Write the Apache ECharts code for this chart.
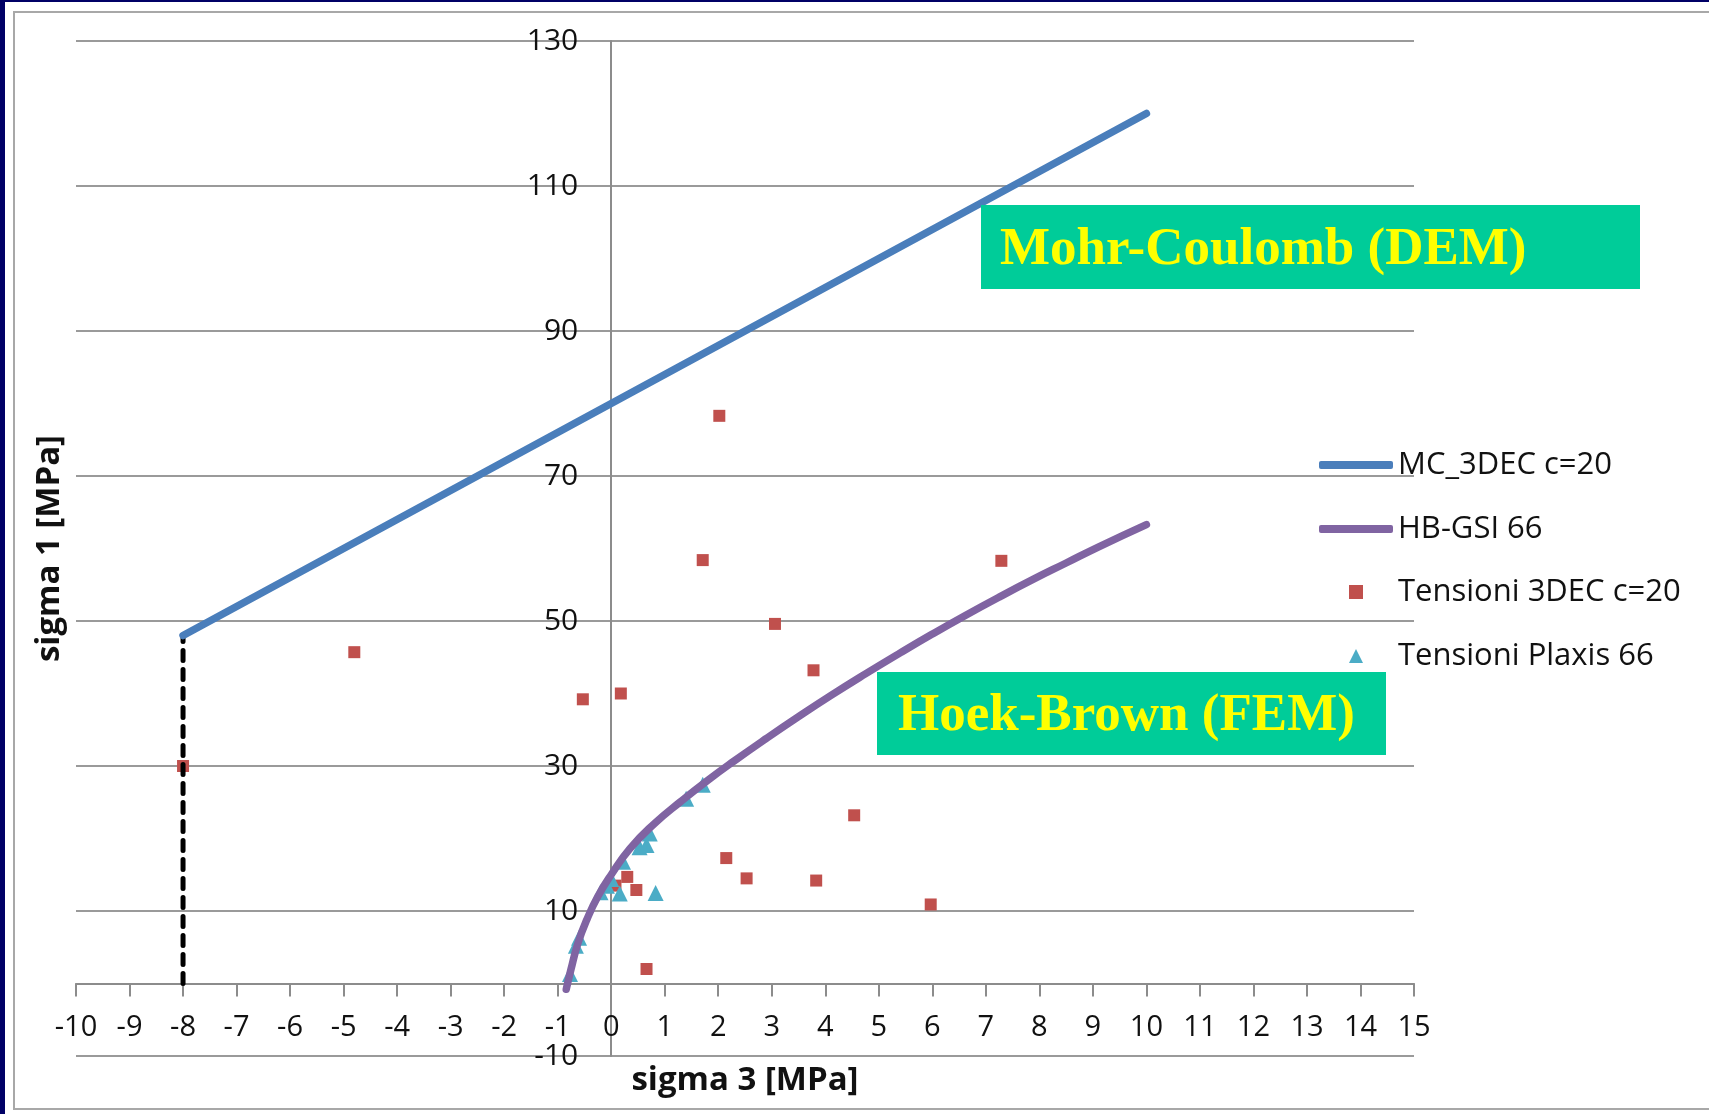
<!DOCTYPE html>
<html>
<head>
<meta charset="utf-8">
<title>sigma 1 - sigma 3</title>
<script src="https://cdn.jsdelivr.net/npm/echarts@6/dist/echarts.min.js"></script>
<style>
  html, body { margin: 0; padding: 0; background: #000066; overflow: hidden; }
  #paper { position: absolute; left: 5px; top: 2px; right: 0; bottom: 0; background: #fff; }
  #frame { position: absolute; left: 13px; top: 11px; width: 1720px; height: 1099px;
           box-sizing: border-box; border: 2px solid #a8a8a8; }
  #chart { position: absolute; left: 0; top: 0; width: 1709px; height: 1114px; }
</style>
</head>
<body>
<div id="paper"></div>
<div id="frame"></div>
<div id="chart"></div>
<script>
// axis ranges (sigma 3 on x, sigma 1 on y)
var sigma3Axis = { min: -10, max: 15, step: 1 };
var sigma1Axis = { min: -10, max: 130, step: 20 };

// Mohr-Coulomb envelope from 3DEC (c = 20)
var mcLine = [[-8, 48], [10, 120]];

// tension cut-off, dashed vertical
var cutoffLine = [[-8, 0], [-8, 48]];

// Hoek-Brown envelope GSI 66
var hbCurve = [
    [-0.84, -0.8], [-0.75, 2.0], [-0.62, 5.6], [-0.45, 8.9], [-0.25, 12.0],
    [0, 15.0], [0.35, 18.6], [0.8, 22.0], [1.3, 25.1], [1.8, 28.0],
    [2.3, 30.7], [2.9, 33.8], [3.5, 36.8], [4.1, 39.7], [4.75, 42.7],
    [5.4, 45.6], [6.0, 48.2], [6.6, 50.7], [7.25, 53.3], [7.9, 55.8],
    [8.5, 58.0], [9.1, 60.2], [10, 63.3]
];

// stress points from 3DEC
var stress3dec = [
    [-8, 30], [-4.8, 45.7], [-0.53, 39.2], [0.18, 40.0], [2.02, 78.3],
    [1.71, 58.4], [3.06, 49.6], [3.78, 43.2], [7.29, 58.3], [4.54, 23.2],
    [2.15, 17.3], [2.53, 14.5], [3.83, 14.2], [5.97, 10.9], [0.66, 2.0],
    [0.30, 14.7], [0.47, 12.9], [0.08, 13.5]
];

// stress points from Plaxis
var stressPlaxis = [
    [-0.77, 1.3], [-0.66, 5.2], [-0.6, 6.3], [-0.2, 12.6], [-0.08, 13.5],
    [0.0, 14.4], [0.16, 12.4], [0.22, 16.8], [0.53, 18.8], [0.66, 19.1],
    [0.72, 20.7], [0.83, 12.5], [1.4, 25.5], [1.71, 27.4]
];

var seriesNames = ['MC_3DEC c=20', 'HB-GSI 66', 'Tensioni 3DEC c=20', 'Tensioni Plaxis 66'];

var uiFont = "'Open Sans', 'Noto Sans', sans-serif";
var boxFont = "bold 53px 'Liberation Serif', 'DejaVu Serif', serif";

// grid box, and where the axes cross (sigma = 0)
var gridBox = { left: 76, right: 295, top: 41, bottom: 58 };
var plotW = 1709 - gridBox.left - gridBox.right;
var plotH = 1114 - gridBox.top - gridBox.bottom;
var yAxisShift = -plotW * (0 - sigma3Axis.min) / (sigma3Axis.max - sigma3Axis.min);
var xAxisShift = -plotH * (0 - sigma1Axis.min) / (sigma1Axis.max - sigma1Axis.min);

var myChart = echarts.init(document.getElementById('chart'));

var option = {
    animation: false,
    backgroundColor: 'transparent',
    grid: { left: gridBox.left, right: gridBox.right, top: gridBox.top, bottom: gridBox.bottom,
            containLabel: false, outerBoundsMode: 'none' },
    legend: [
        {
            // line entries
            data: [
                { name: seriesNames[0], icon: 'roundRect' },
                { name: seriesNames[1], icon: 'roundRect' }
            ],
            orient: 'vertical',
            left: 1319,
            top: 445,
            padding: 0,
            itemWidth: 74,
            itemHeight: 8,
            itemGap: 24,
            selectedMode: false,
            textStyle: { fontSize: 31, fontFamily: uiFont, color: '#111', lineHeight: 40 }
        },
        {
            // marker entries
            data: [
                { name: seriesNames[2], icon: 'rect' },
                { name: seriesNames[3], icon: 'triangle' }
            ],
            orient: 'vertical',
            left: 1349,
            top: 572,
            padding: 0,
            itemWidth: 14,
            itemHeight: 14,
            itemGap: 24,
            selectedMode: false,
            textStyle: { fontSize: 31, fontFamily: uiFont, color: '#111', lineHeight: 40,
                         padding: [0, 0, 0, 30] }
        }
    ],
    xAxis: {
        type: 'value',
        min: sigma3Axis.min,
        max: sigma3Axis.max,
        interval: sigma3Axis.step,
        offset: xAxisShift,
        name: 'sigma 3 [MPa]',
        nameLocation: 'middle',
        nameGap: 81,
        nameTextStyle: { fontSize: 33, fontWeight: 'bold', fontFamily: uiFont, color: '#111' },
        axisLine: { onZero: false, lineStyle: { color: '#8c8c8c', width: 2 } },
        axisTick: { length: 13, lineStyle: { color: '#8c8c8c', width: 2 } },
        axisLabel: { fontSize: 29, fontFamily: uiFont, color: '#111', margin: 30 },
        splitLine: { show: false }
    },
    yAxis: {
        type: 'value',
        min: sigma1Axis.min,
        max: sigma1Axis.max,
        interval: sigma1Axis.step,
        offset: yAxisShift,
        name: 'sigma 1 [MPa]',
        nameLocation: 'middle',
        nameRotate: 90,
        nameGap: 545,
        nameTextStyle: { fontSize: 33, fontWeight: 'bold', fontFamily: uiFont, color: '#111' },
        axisLine: { onZero: false, lineStyle: { color: '#8c8c8c', width: 2 } },
        axisTick: { show: false },
        axisLabel: { fontSize: 30, fontFamily: uiFont, color: '#111', margin: 33 },
        splitLine: { lineStyle: { color: '#9a9a9a', width: 2 } }
    },
    series: [
        {
            name: 'cutoff',
            type: 'line',
            data: cutoffLine,
            symbol: 'none',
            silent: true,
            lineStyle: { color: '#000', width: 5, type: [10, 9], cap: 'round' }
        },
        {
            name: seriesNames[0],
            type: 'line',
            data: mcLine,
            symbol: 'none',
            lineStyle: { color: '#4A7EBB', width: 7.5, cap: 'round' },
            itemStyle: { color: '#4A7EBB' }
        },
        {
            name: seriesNames[1],
            type: 'line',
            data: hbCurve,
            symbol: 'none',
            smooth: true,
            lineStyle: { color: '#8064A2', width: 7.5, cap: 'round' },
            itemStyle: { color: '#8064A2' }
        },
        {
            name: seriesNames[2],
            type: 'scatter',
            data: stress3dec,
            symbol: 'rect',
            symbolSize: 12,
            itemStyle: { color: '#C0504D', opacity: 1 }
        },
        {
            name: seriesNames[3],
            type: 'scatter',
            data: stressPlaxis,
            symbol: 'triangle',
            symbolSize: 16,
            itemStyle: { color: '#4BACC6', opacity: 1 }
        }
    ],
    graphic: [
        {
            type: 'rect', z: 100,
            shape: { x: 981, y: 205, width: 659, height: 84 },
            style: { fill: '#00CC99' }
        },
        {
            type: 'text', z: 101, x: 1000, y: 250,
            style: { text: 'Mohr-Coulomb (DEM)', font: boxFont, fill: '#FFFF00', verticalAlign: 'middle' }
        },
        {
            type: 'rect', z: 100,
            shape: { x: 877, y: 672, width: 509, height: 83 },
            style: { fill: '#00CC99' }
        },
        {
            type: 'text', z: 101, x: 898, y: 716,
            style: { text: 'Hoek-Brown (FEM)', font: boxFont, fill: '#FFFF00', verticalAlign: 'middle' }
        }
    ]
};

myChart.setOption(option);
</script>
</body>
</html>
